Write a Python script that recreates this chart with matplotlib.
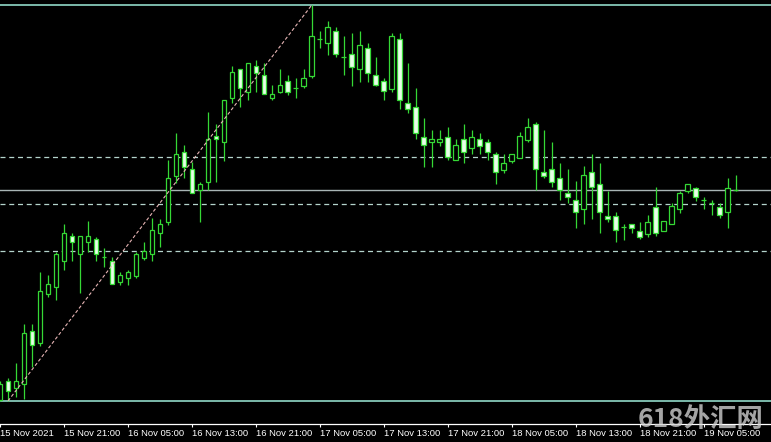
import pandas as pd
import matplotlib
matplotlib.use("Agg")
import matplotlib.pyplot as plt

# hourly bars, 15 Nov 2021 13:00 onwards
start_time = "2021-11-15 13:00"

opens = [1840.0, 1841.9, 1841.2, 1841.6, 1846.9, 1845.7, 1850.6, 1851.3, 1853.9, 1856.4,
         1854.6, 1855.8, 1856.1, 1854.3, 1853.9, 1851.8, 1852.2, 1852.4, 1854.2, 1854.6,
         1856.7, 1857.8, 1862.4, 1864.8, 1863.1, 1861.0, 1861.8, 1866.4, 1865.8, 1870.2,
         1873.1, 1870.8, 1873.4, 1872.5, 1870.2, 1870.8, 1871.9, 1871.2, 1871.4, 1872.4,
         1876.1, 1875.7, 1876.9, 1874.3, 1874.6, 1873.1, 1875.2, 1872.5, 1871.9, 1871.1,
         1876.1, 1869.7, 1869.3, 1866.3, 1865.8, 1865.8, 1866.3, 1864.0, 1866.1, 1865.2,
         1866.1, 1865.8, 1864.6, 1863.0, 1863.9, 1864.2, 1866.0, 1867.6, 1862.8, 1863.1,
         1862.2, 1860.7, 1860.0, 1859.1, 1862.8, 1861.6, 1858.4, 1858.4, 1857.3, 1857.6,
         1856.9, 1856.6, 1859.3, 1856.9, 1857.6, 1859.1, 1860.9, 1861.2, 1860.0, 1859.7,
         1859.3, 1858.8, 1861.0]
highs = [1841.9, 1842.2, 1843.7, 1847.6, 1847.6, 1852.8, 1852.5, 1854.8, 1857.6, 1856.7,
         1856.4, 1857.9, 1856.3, 1855.2, 1854.3, 1852.8, 1853.0, 1854.8, 1855.8, 1858.2,
         1858.1, 1864.0, 1866.7, 1865.5, 1863.8, 1861.8, 1868.8, 1867.6, 1870.0, 1873.4,
         1873.1, 1873.7, 1874.0, 1873.7, 1871.5, 1873.1, 1872.5, 1872.2, 1873.1, 1879.5,
         1876.9, 1877.9, 1877.3, 1876.4, 1876.7, 1876.9, 1875.7, 1874.3, 1872.2, 1876.7,
         1876.7, 1873.7, 1871.2, 1868.2, 1867.0, 1867.0, 1867.3, 1866.1, 1867.6, 1867.0,
         1866.7, 1866.1, 1864.8, 1864.6, 1864.6, 1866.8, 1868.2, 1867.8, 1867.0, 1865.8,
         1863.7, 1863.1, 1861.9, 1863.4, 1864.6, 1863.7, 1860.9, 1858.8, 1857.6, 1857.6,
         1857.8, 1858.5, 1861.3, 1857.9, 1859.7, 1860.9, 1861.6, 1861.3, 1860.3, 1860.0,
         1859.7, 1862.2, 1862.5]
lows = [1839.9, 1839.9, 1840.3, 1840.1, 1843.3, 1845.4, 1850.3, 1850.0, 1853.0, 1853.9,
        1850.7, 1854.8, 1853.9, 1853.3, 1851.6, 1851.5, 1851.5, 1852.2, 1854.0, 1853.9,
        1855.3, 1857.5, 1861.7, 1862.2, 1860.7, 1857.8, 1861.0, 1861.8, 1863.9, 1869.7,
        1869.3, 1870.0, 1870.8, 1870.6, 1870.0, 1870.7, 1870.5, 1870.2, 1871.2, 1872.2,
        1875.2, 1874.5, 1874.3, 1872.5, 1871.4, 1871.8, 1871.8, 1871.4, 1870.0, 1870.8,
        1869.1, 1868.7, 1866.1, 1863.3, 1863.3, 1865.4, 1864.0, 1864.0, 1863.7, 1864.6,
        1864.6, 1864.0, 1861.6, 1862.7, 1863.7, 1864.2, 1865.8, 1861.0, 1862.2, 1861.3,
        1860.0, 1859.7, 1857.2, 1857.6, 1858.1, 1856.7, 1857.8, 1855.8, 1856.0, 1856.7,
        1856.1, 1856.3, 1856.4, 1856.9, 1857.6, 1858.7, 1860.7, 1859.9, 1859.1, 1858.5,
        1858.2, 1857.2, 1860.9]
closes = [1841.6, 1840.9, 1841.9, 1846.7, 1845.5, 1850.9, 1851.6, 1854.6, 1856.7, 1855.8,
          1856.4, 1856.4, 1854.6, 1854.3, 1851.6, 1852.5, 1852.8, 1854.6, 1854.9, 1857.0,
          1857.6, 1862.2, 1864.6, 1863.3, 1860.7, 1861.6, 1866.1, 1866.1, 1870.0, 1872.8,
          1871.2, 1873.7, 1872.7, 1870.6, 1870.6, 1871.5, 1870.8, 1871.2, 1872.2, 1876.4,
          1876.1, 1877.3, 1874.6, 1874.3, 1873.3, 1875.5, 1872.7, 1871.5, 1870.9, 1876.4,
          1870.0, 1869.1, 1866.7, 1865.5, 1866.1, 1866.1, 1864.3, 1865.5, 1864.8, 1866.3,
          1865.4, 1864.8, 1862.8, 1863.7, 1864.6, 1866.4, 1867.3, 1863.1, 1862.4, 1861.8,
          1861.0, 1860.3, 1858.8, 1862.5, 1861.3, 1858.8, 1858.1, 1857.0, 1857.3, 1857.2,
          1856.3, 1857.8, 1856.7, 1857.9, 1859.4, 1860.7, 1861.6, 1860.3, 1860.0, 1859.7,
          1858.5, 1861.2, 1861.0]

# chart objects
solid_levels = [1879.5, 1839.9]
mid_level = 1861.0
dashed_levels = [1864.3, 1859.6, 1854.9]
trend_from = 1   # bar index, low
trend_to = 39    # bar index, high

times = pd.date_range(start_time, periods=len(opens), freq="h")
idx = list(range(len(opens)))

bg = "black"
edge = "#35d835"
bear_fill = "#e8ffe8"

fig = plt.figure(figsize=(7.71, 4.42), dpi=100, facecolor=bg)
ax = fig.add_axes([0, 18 / 442, 1, 424 / 442])
ax.set_facecolor(bg)

for lv in solid_levels:
    ax.axhline(lv, color="#86c8b8", linewidth=1.3, zorder=1)
ax.axhline(mid_level, color="#a8b4b4", linewidth=1.0, zorder=1)
for lv in dashed_levels:
    ax.axhline(lv, color="#b4d4cc", linewidth=0.9, linestyle=(0, (4, 3)), zorder=1)

ax.vlines(idx, lows, highs, color=edge, linewidth=0.9, zorder=2)

bottoms = [min(o, c) for o, c in zip(opens, closes)]
heights = [abs(c - o) for o, c in zip(opens, closes)]
fills = [bg if c > o else bear_fill for o, c in zip(opens, closes)]
ax.bar(idx, heights, bottom=bottoms, width=0.58, color=fills,
       edgecolor=edge, linewidth=0.9, zorder=3)

ax.plot([trend_from, trend_to], [lows[trend_from], highs[trend_to]],
        color="#e6b4b4", linewidth=0.8, linestyle=(0, (3, 2)), zorder=4)

ax.set_xlim(0.0625, 0.0625 + 771 / 8)
ax.set_ylim(1837.6, 1880.0)

tick_pos = idx[::8]
tick_lbl = [times[0].strftime("%d %b %Y")] + [t.strftime("%d %b %H:%M") for t in times[8::8]]
ax.set_xticks(tick_pos)
ax.set_xticklabels(tick_lbl, fontsize=6.8, family="Liberation Sans", color="white")
for lbl in ax.get_xticklabels():
    lbl.set_horizontalalignment("left")
ax.tick_params(axis="x", direction="out", length=2.3, width=0.8, color="white", pad=1.5)
ax.set_yticks([])

for s in ["top", "left", "right"]:
    ax.spines[s].set_visible(False)
ax.spines["bottom"].set_color("white")
ax.spines["bottom"].set_linewidth(0.9)

# site watermark, sits over the last time labels
fig.text(0.99, 0.052, "618外汇网", ha="right", va="center", fontsize=19,
         fontweight="bold", color="#d4d4d4", alpha=0.78,
         family=["Noto Sans CJK SC", "DejaVu Sans"])

plt.savefig("out.png", dpi=100, facecolor=bg)
plt.close()
